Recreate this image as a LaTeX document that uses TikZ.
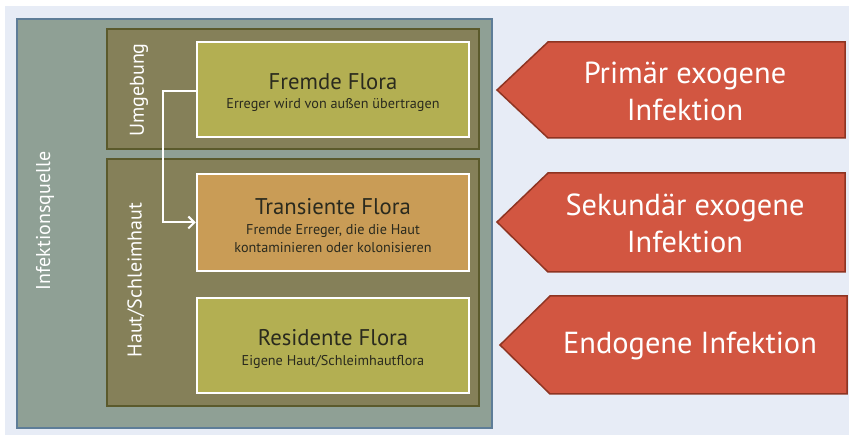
\documentclass[tikz,border=0pt]{standalone}
\usepackage{fontspec}
\setmainfont{PT Sans}
\usetikzlibrary{arrows.meta}
\definecolor{bgc}{HTML}{E7ECF6}
\definecolor{outerf}{HTML}{8FA095}
\definecolor{outerd}{HTML}{5E7D98}
\definecolor{olivef}{HTML}{858059}
\definecolor{olived}{HTML}{5B5A2C}
\definecolor{fremdef}{HTML}{B3AF52}
\definecolor{transf}{HTML}{C99C56}
\definecolor{arrf}{HTML}{D25641}
\definecolor{arrd}{HTML}{8E3422}
\definecolor{txt}{HTML}{2A2A1E}
\tikzset{
  floraBox/.style={draw=white, line width=2.5pt, minimum width=272pt, inner sep=0pt},
  groupBox/.style={draw=olived, fill=olivef, line width=2pt},
  sideLabel/.style={rotate=90, text=white, font=\fontsize{20}{22}\selectfont, inner sep=0pt},
  titleText/.style={anchor=base, text=txt, font=\fontsize{22.7}{26}\selectfont, inner sep=0pt},
  subText/.style={anchor=base, text=txt, font=\fontsize{14.2}{16}\selectfont, inner sep=0pt, align=center},
  arrowShape/.style={fill=arrf, draw=arrd, line width=1.5pt, line join=miter},
  arrowText/.style={text=white, font=\fontsize{30.4}{37}\selectfont, align=center, inner sep=0pt}
}
\begin{document}
\begin{tikzpicture}[x=1pt,y=-1pt]
\useasboundingbox (0,0) rectangle (849,435);
\fill[white] (0,0) rectangle (849,435);
\fill[bgc] (5,6) rectangle (849,435);
% outer source box
\draw[fill=outerf, draw=outerd, line width=2pt] (17,19) rectangle (492,428);
\node[sideLabel] (quelle) at (45,221) {Infektionsquelle};
% group boxes
\draw[groupBox] (107,29) rectangle (479,149);
\draw[groupBox] (107,159) rectangle (479,406);
\node[sideLabel] (umg) at (139,90) {Umgebung};
\node[sideLabel] (haut) at (136,280) {Haut/Schleimhaut};
% flora boxes
\node[floraBox, fill=fremdef, minimum height=95pt] (fremde) at (333,89.5) {};
\node[floraBox, fill=transf, minimum height=97pt] (trans) at (333,222.5) {};
\node[floraBox, fill=fremdef, minimum height=95pt] (resid) at (333,345.5) {};
\node[titleText] (t1) at (333,90) {Fremde Flora};
\node[subText] (s1) at (333,109) {Erreger wird von außen übertragen};
\node[titleText] (t2) at (333,215) {Transiente Flora};
\node[subText] (s2) at (333,235) {Fremde Erreger, die die Haut};
\node[subText] (s2b) at (333,253) {kontaminieren oder kolonisieren};
\node[titleText] (t3) at (333,346) {Residente Flora};
\node[subText] (s3) at (333,366) {Eigene Haut/Schleimhautflora};
% connector
\coordinate (bend) at (163,91);
\draw[white, line width=2pt, -{Straight Barb[length=6pt,width=12pt,line width=2pt]}]
  (fremde.west |- bend) -- (bend) -- (bend |- trans.west) -- (trans.west);
% infection arrows
\draw[arrowShape] (497,90) -- (548,42) -- (845,42) -- (845,138) -- (548,138) -- cycle;
\node[arrowText] (a1) at (685,91) {Primär exogene\\Infektion};
\draw[arrowShape] (497,222) -- (548,173) -- (845,173) -- (845,272) -- (548,272) -- cycle;
\node[arrowText] (a2) at (685,223) {Sekundär exogene\\Infektion};
\draw[arrowShape] (500,345) -- (550,296) -- (847,296) -- (847,394) -- (550,394) -- cycle;
\node[arrowText] (a3) at (690,346) {Endogene Infektion};
\end{tikzpicture}
\end{document}
